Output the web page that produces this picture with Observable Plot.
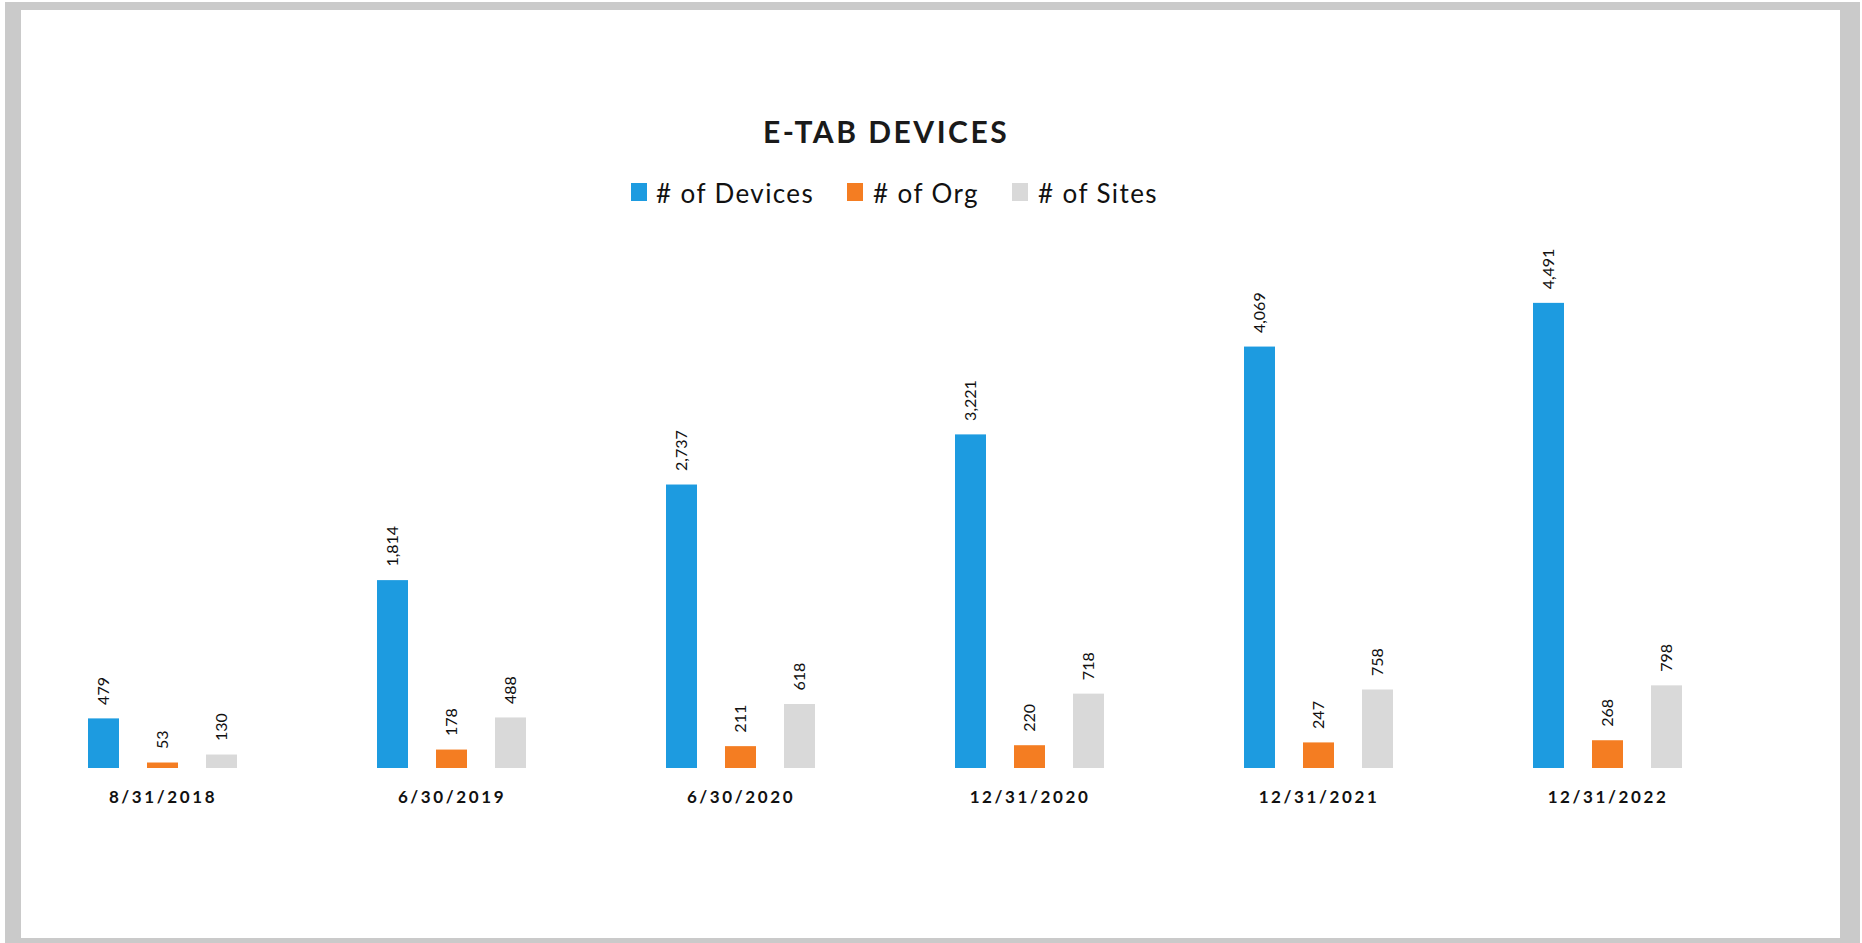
<!DOCTYPE html>
<html><head><meta charset="utf-8">
<script src="https://cdn.jsdelivr.net/npm/d3@7"></script>
<script src="https://cdn.jsdelivr.net/npm/@observablehq/plot@0.6"></script>
<style>
html,body{margin:0;padding:0;background:#fff;width:1862px;height:943px;overflow:hidden;}
#page{position:relative;width:1862px;height:943px;font-family:Lato,"Open Sans",sans-serif;}
#frame{position:absolute;left:5px;top:2px;width:1819px;height:928px;border-style:solid;border-color:#cacaca;border-width:8px 20px 5px 16px;}
#title{position:absolute;left:0;width:1772px;top:114px;text-align:center;font-size:30px;line-height:34px;font-weight:bold;letter-spacing:2.5px;color:#1a1a1a;}
#legend{position:absolute;left:0;top:177px;width:1862px;height:32px;font-size:26px;color:#111;letter-spacing:1.4px;}
#legend .sw{position:absolute;top:6px;width:16px;height:18px;}
#legend .tx{position:absolute;top:0;line-height:32px;white-space:nowrap;}
#chart{position:absolute;left:0;top:200px;}
</style>
</head><body>
<div id="page">
  <div id="frame"></div>
  <div id="title">E-TAB DEVICES</div>
  <div id="legend"></div>
  <div id="chart"></div>
</div>
<script>
const dates = ["8/31/2018", "6/30/2019", "6/30/2020", "12/31/2020", "12/31/2021", "12/31/2022"];
const devices = [479, 1814, 2737, 3221, 4069, 4491];
const orgs = [53, 178, 211, 220, 247, 268];
const sites = [130, 488, 618, 718, 758, 798];
const seriesNames = ["# of Devices", "# of Org", "# of Sites"];
const seriesColors = ["#1d9be0", "#f47d22", "#d9d9d9"];

const rows = dates.flatMap((d, i) => [
  {date: d, series: seriesNames[0], value: devices[i]},
  {date: d, series: seriesNames[1], value: orgs[i]},
  {date: d, series: seriesNames[2], value: sites[i]}
]);

// legend (HTML, above the SVG)
const legendSwatchX = [631, 847, 1012];
const legendTextX = [656, 873, 1038];
const legend = document.getElementById("legend");
seriesNames.forEach((s, i) => {
  const sw = document.createElement("span");
  sw.className = "sw";
  sw.style.left = legendSwatchX[i] + "px";
  sw.style.background = seriesColors[i];
  const tx = document.createElement("span");
  tx.className = "tx";
  tx.style.left = legendTextX[i] + "px";
  tx.textContent = s;
  legend.appendChild(sw); legend.appendChild(tx);
});

const fmt = d3.format(",");
const chart = Plot.plot({
  width: 1862,
  height: 720,
  marginTop: 46,
  marginBottom: 152,
  marginLeft: 16,
  marginRight: 108,
  style: {fontFamily: "Lato, 'Open Sans', sans-serif", background: "transparent"},
  fx: {domain: dates, padding: 0, axis: null},
  x: {domain: seriesNames, paddingInner: 0.47, paddingOuter: 1.15, axis: null},
  y: {domain: [0, 5040], axis: null},
  color: {domain: seriesNames, range: seriesColors},
  marks: [
    Plot.barY(rows, {fx: "date", x: "series", y: "value", fill: "series"}),
    Plot.text(rows, {fx: "date", x: "series", y: "value", text: d => fmt(d.value),
      rotate: -90, textAnchor: "start", dy: -14, fontSize: 16, fill: "#111"}),
    Plot.text(dates, {fx: d => d, text: d => d, frameAnchor: "bottom", dy: 34,
      fontSize: 17, fontWeight: "bold", fill: "#111"})
  ]
});
const textGroups = chart.querySelectorAll('g[aria-label="text"]');
if (textGroups.length > 1) textGroups[textGroups.length - 1].style.letterSpacing = "2.6px";
document.getElementById("chart").appendChild(chart);
</script>
</body></html>
